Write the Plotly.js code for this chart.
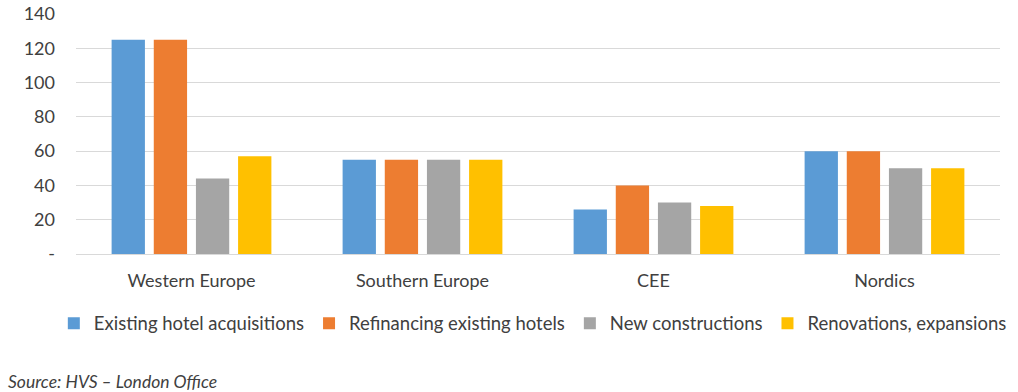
<!DOCTYPE html>
<html>
<head>
<meta charset="utf-8">
<script src="https://cdn.plot.ly/plotly-3.0.1.min.js"></script>
<style>html,body{margin:0;padding:0;background:#fff;}#chart{width:1018px;height:392px;}</style>
</head>
<body>
<div id="chart"></div>
<script>
const categories = ["Western Europe", "Southern Europe", "CEE", "Nordics"];
const seriesNames = ["Existing hotel acquisitions", "Refinancing existing hotels", "New constructions", "Renovations, expansions"];
const acquisitions = [125, 55, 26, 60];
const refinancing = [125, 55, 40, 60];
const newConstructions = [44, 55, 30, 50];
const renovations = [57, 55, 28, 50];
const yTickVals = [0, 20, 40, 60, 80, 100, 120, 140];
const yTickText = ["-", "20", "40", "60", "80", "100", "120", "140"];
const sourceText = "Source: HVS \u2013 London Office";

const colors = ["#5B9BD5", "#ED7D31", "#A5A5A5", "#FFC000"];
const values = [acquisitions, refinancing, newConstructions, renovations];
const FONT = "Lato, 'Open Sans', sans-serif";

const traces = values.map((v, i) => ({
  type: "bar",
  name: seriesNames[i],
  x: categories,
  y: v,
  marker: {color: colors[i]},
  hoverinfo: "x+y+name"
}));

const layout = {
  width: 1018,
  height: 392,
  margin: {l: 76, r: 18, t: 14, b: 138},
  paper_bgcolor: "#ffffff",
  plot_bgcolor: "#ffffff",
  barmode: "group",
  bargap: 0.27,
  bargroupgap: 0.21,
  font: {family: FONT, size: 18, color: "#404040"},
  xaxis: {
    showgrid: false,
    showline: false,
    zeroline: false,
    ticks: "",
    tickfont: {family: FONT, size: 18, color: "#404040"},
    ticklabelstandoff: 14
  },
  yaxis: {
    range: [0, 140],
    tickvals: yTickVals,
    ticktext: yTickText,
    showgrid: true,
    gridcolor: "#D9D9D9",
    gridwidth: 1,
    zeroline: true,
    zerolinecolor: "#D9D9D9",
    zerolinewidth: 1,
    showline: false,
    ticks: "",
    ticklabelstandoff: 20,
    tickfont: {family: FONT, size: 18, color: "#404040"}
  },
  legend: {
    orientation: "h",
    x: -0.024,
    xanchor: "left",
    y: -0.29,
    yanchor: "middle",
    font: {family: FONT, size: 18.5, color: "#404040"},
    itemwidth: 30,
    tracegroupgap: 0,
    bgcolor: "rgba(0,0,0,0)"
  },
  showlegend: true,
  annotations: [{
    text: "<i>" + sourceText + "</i>",
    xref: "paper",
    yref: "paper",
    x: -0.076,
    y: -0.53,
    xanchor: "left",
    yanchor: "middle",
    showarrow: false,
    font: {family: FONT, size: 17.5, color: "#404040"}
  }]
};

Plotly.newPlot("chart", traces, layout, {displayModeBar: false, staticPlot: true});
</script>
</body>
</html>
